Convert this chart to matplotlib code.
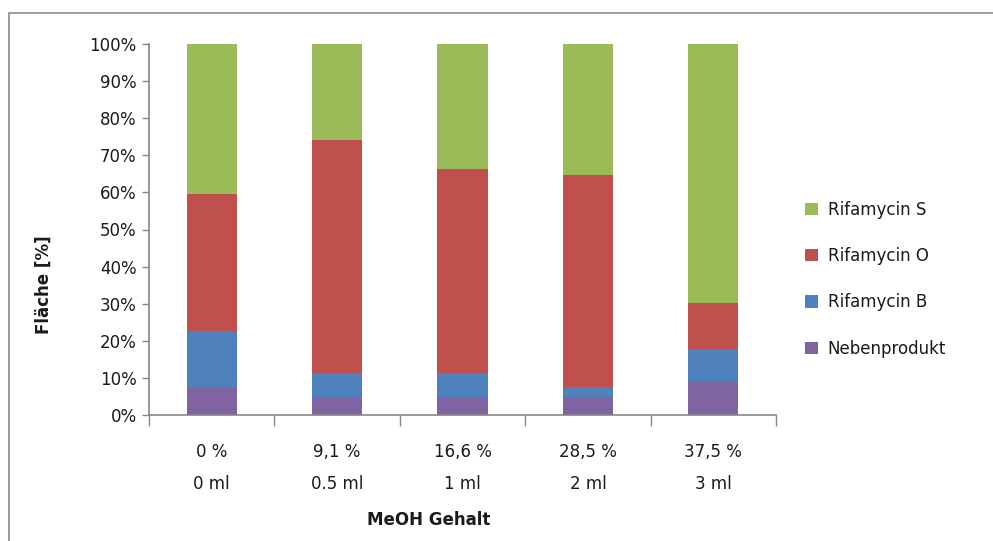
import matplotlib.pyplot as plt
from matplotlib.patches import Rectangle

categories = ["0 %\n0 ml", "9,1 %\n0.5 ml", "16,6 %\n1 ml", "28,5 %\n2 ml", "37,5 %\n3 ml"]
nebenprodukt = [7.5, 4.8, 4.8, 4.8, 9.2]
rifamycin_b = [15.1, 6.6, 6.6, 2.7, 8.5]
rifamycin_o = [36.9, 62.7, 54.8, 57.1, 12.5]
rifamycin_s = [40.5, 25.9, 33.8, 35.4, 69.8]

series = [
    ("Nebenprodukt", nebenprodukt, "#8064A2"),
    ("Rifamycin B", rifamycin_b, "#4F81BD"),
    ("Rifamycin O", rifamycin_o, "#C0504D"),
    ("Rifamycin S", rifamycin_s, "#9BBB59"),
]

plt.rcParams['font.family'] = ['DejaVu Sans']

fig = plt.figure(figsize=(9.93, 5.41), dpi=100)
W, H = 993, 541
ax = fig.add_axes([149 / W, 1 - 415 / H, (776 - 149) / W, (415 - 44) / H])

# outer chart frame (left and top edges visible)
fig.patches.append(Rectangle((9 / W, -0.1), 1.2, 1 - 13 / H + 0.1, transform=fig.transFigure,
                             fill=False, edgecolor="#8c8c8c", linewidth=1.2))

x = list(range(len(categories)))
bottom = [0.0] * len(categories)
handles = {}
for name, vals, color in series:
    bars = ax.bar(x, vals, width=0.4, bottom=bottom, color=color, linewidth=0, label=name)
    handles[name] = bars
    bottom = [b + v for b, v in zip(bottom, vals)]

ax.set_xlim(-0.5, len(categories) - 0.5)
ax.set_ylim(0, 100)
ax.set_yticks(range(0, 101, 10))
ax.set_yticklabels([f"{v}%" for v in range(0, 101, 10)], fontsize=12, color="#1a1a1a")

ax.set_xticks([i - 0.5 for i in range(len(categories) + 1)], minor=False)
ax.set_xticklabels([])
ax.set_xticks(x, minor=True)
ax.set_xticklabels(categories, minor=True, fontsize=12, color="#1a1a1a", linespacing=2.0)
ax.tick_params(axis='x', which='major', direction='out', length=8, color="#868686", width=1)
ax.tick_params(axis='x', which='minor', length=0, pad=20)
ax.tick_params(axis='y', direction='out', length=5, color="#868686", width=1, pad=4)

for s in ("top", "right"):
    ax.spines[s].set_visible(False)
for s in ("left", "bottom"):
    ax.spines[s].set_color("#868686")
    ax.spines[s].set_linewidth(1.2)

ax.set_xlabel("MeOH Gehalt", fontsize=12, fontweight="bold", color="#1a1a1a")
ax.xaxis.set_label_coords((429 - 149) / (776 - 149), -(511 - 415) / (415 - 44))
ax.set_ylabel("Fläche [%]", fontsize=12, fontweight="bold", color="#1a1a1a")
ax.yaxis.set_label_coords(-(149 - 53) / (776 - 149), (415 - 285) / (415 - 44))

order = ["Rifamycin S", "Rifamycin O", "Rifamycin B", "Nebenprodukt"]
leg = fig.legend([handles[n] for n in order], order, loc="upper left",
                 bbox_to_anchor=(790 / W, 1 - 186 / H), frameon=False, fontsize=12,
                 handlelength=0.75, handleheight=0.75, handletextpad=0.6,
                 labelspacing=1.69, labelcolor="#1a1a1a")

fig.savefig("out.png", dpi=100)
